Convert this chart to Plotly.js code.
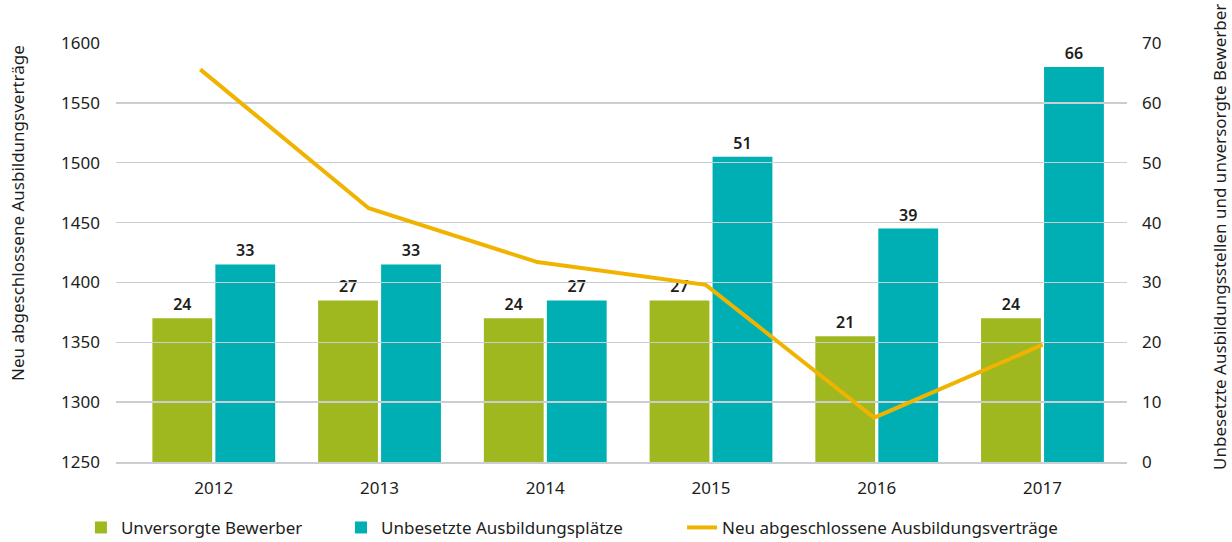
<!DOCTYPE html>
<html>
<head>
<meta charset="utf-8">
<script src="https://cdn.plot.ly/plotly-3.0.1.min.js"></script>
<style>html,body{margin:0;padding:0;background:#fff;}#chart{width:1232px;height:542px;}</style>
</head>
<body>
<div id="chart"></div>
<script>
const years = ['2012', '2013', '2014', '2015', '2016', '2017'];
const unversorgteBewerber = [24, 27, 24, 27, 21, 24];
const unbesetztePlaetze = [33, 33, 27, 51, 39, 66];
const neueVertraege = [1578, 1462, 1417, 1398, 1287, 1348];

const seriesNames = ['Unversorgte Bewerber', 'Unbesetzte Ausbildungsplätze', 'Neu abgeschlossene Ausbildungsverträge'];
const leftTitle = 'Neu abgeschlossene Ausbildungsverträge';
const rightTitle = 'Unbesetzte Ausbildungsstellen und unversorgte Bewerber';

const FONT = 'Noto Sans, Open Sans, sans-serif';
const TXT = '#1d1d1b';
const GREEN = '#a0b820';
const TEAL = '#00afb4';
const GOLD = '#f0b400';
const GRID = '#c9ced3';

const traces = [
  {
    type: 'bar', name: seriesNames[0], x: years, y: unversorgteBewerber,
    xaxis: 'x', yaxis: 'y2', marker: {color: GREEN},
    text: unversorgteBewerber.map(String), textposition: 'outside', cliponaxis: false,
    textfont: {family: FONT, size: 16, color: TXT, weight: 600},
    legend: 'legend', showlegend: true, hoverinfo: 'skip'
  },
  {
    type: 'bar', name: seriesNames[1], x: years, y: unbesetztePlaetze,
    xaxis: 'x', yaxis: 'y2', marker: {color: TEAL},
    text: unbesetztePlaetze.map(String), textposition: 'outside', cliponaxis: false,
    textfont: {family: FONT, size: 16, color: TXT, weight: 600},
    legend: 'legend2', showlegend: true, hoverinfo: 'skip'
  },
  {
    type: 'scatter', mode: 'lines', name: seriesNames[2], x: years, y: neueVertraege,
    xaxis: 'x2', yaxis: 'y', line: {color: GOLD, width: 4},
    legend: 'legend3', showlegend: true, hoverinfo: 'skip'
  }
];

const legendBase = {
  orientation: 'h', xref: 'container', yref: 'container', yanchor: 'middle', y: 0.026, xanchor: 'left',
  font: {family: FONT, size: 17, color: TXT}, bgcolor: 'rgba(0,0,0,0)', borderwidth: 0
};

const layout = {
  width: 1232, height: 542,
  margin: {l: 116, r: 105, t: 43, b: 80},
  paper_bgcolor: '#ffffff', plot_bgcolor: 'rgba(0,0,0,0)',
  font: {family: FONT, size: 17, color: TXT},
  showlegend: true,
  barmode: 'group', bargap: 0.24, bargroupgap: 0.05,
  xaxis: {
    type: 'category', range: [-0.59, 5.51], showgrid: false, zeroline: false,
    showline: true, linecolor: GRID, linewidth: 1.5, ticks: '', ticklabelstandoff: 10,
    tickfont: {family: FONT, size: 17, color: TXT}, automargin: false
  },
  xaxis2: {
    type: 'category', overlaying: 'x', anchor: 'y', range: [-0.5, 5.5],
    showgrid: false, zeroline: false, showline: false, showticklabels: false, ticks: ''
  },
  yaxis: {
    range: [1250, 1600], dtick: 50, tick0: 1250, showgrid: true, gridcolor: GRID, gridwidth: 1.5,
    zeroline: false, showline: false, ticks: '', ticklabelstandoff: 15,
    tickfont: {family: FONT, size: 17, color: TXT}, automargin: false
  },
  yaxis2: {
    range: [0, 70], dtick: 10, tick0: 0, overlaying: 'y', side: 'right', anchor: 'x',
    showgrid: false, zeroline: false, showline: false, ticks: '', ticklabelstandoff: 14,
    tickfont: {family: FONT, size: 17, color: TXT}, automargin: false
  },
  legend: Object.assign({}, legendBase, {x: 0.0657}),
  legend2: Object.assign({}, legendBase, {x: 0.2768}),
  legend3: Object.assign({}, legendBase, {x: 0.5536}),
  annotations: [
    {text: leftTitle, xref: 'paper', yref: 'paper', x: -0.098, y: 1.0, xanchor: 'center', yanchor: 'top',
     textangle: -90, showarrow: false, font: {family: FONT, size: 17, color: TXT}},
    {text: rightTitle, xref: 'paper', yref: 'paper', x: 1.092, y: 1.098, xanchor: 'center', yanchor: 'top',
     textangle: -90, showarrow: false, font: {family: FONT, size: 17, color: TXT}}
  ]
};

Plotly.newPlot('chart', traces, layout, {staticPlot: true, displayModeBar: false});
</script>
</body>
</html>
